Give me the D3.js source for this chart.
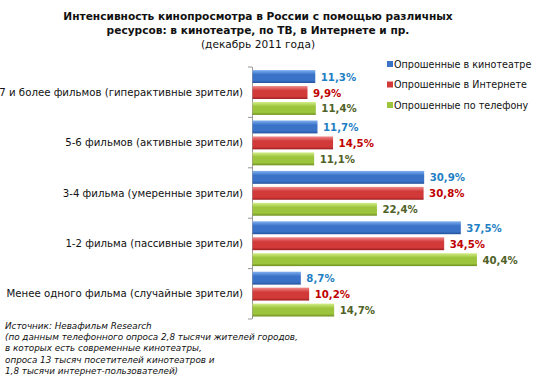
<!DOCTYPE html>
<html><head><meta charset="utf-8">
<script src="https://cdn.jsdelivr.net/npm/d3@7"></script>
<style>body{margin:0;background:#fff}svg{display:block}</style>
</head><body>
<script>
const categories = [
  "7 и более фильмов (гиперактивные зрители)",
  "5-6 фильмов (активные зрители)",
  "3-4 фильма (умеренные зрители)",
  "1-2 фильма (пассивные зрители)",
  "Менее одного фильма (случайные зрители)"
];
const seriesNames = ["Опрошенные в кинотеатре", "Опрошенные в Интернете", "Опрошенные по телефону"];
const cinema   = [11.3, 11.7, 30.9, 37.5, 8.7];
const internet = [9.9, 14.5, 30.8, 34.5, 10.2];
const phone    = [11.4, 11.1, 22.4, 40.4, 14.7];
const seriesValues = [cinema, internet, phone];
const titleLines = ["Интенсивность кинопросмотра в России с помощью различных", "ресурсов: в кинотеатре, по ТВ, в Интернете и пр."];
const subtitle = "(декабрь 2011 года)";
const sourceLines = [
  "Источник: Невафильм Research",
  "(по данным телефонного опроса 2,8 тысячи жителей городов,",
  "в которых есть современные кинотеатры,",
  "опроса 13 тысяч посетителей кинотеатров и",
  "1,8 тысячи интернет-пользователей)"
];

const W = 552, H = 381;
const barColors = [["#7fb0ef","#3a72c8","#24529a"],["#f08a8a","#d23a3a","#9e1c1c"],["#d4ee8a","#9cc43c","#6e8f1e"]];
const labelColors = ["#1f7fc4", "#c00000", "#4f6228"];
const legendColors = ["#3a72c8", "#d23a3a", "#9cc43c"];

const svg = d3.select("body").append("svg").attr("width", W).attr("height", H);
const defs = svg.append("defs");
barColors.forEach((c, i) => {
  const g = defs.append("linearGradient").attr("id", "g" + i).attr("x1", 0).attr("y1", 0).attr("x2", 0).attr("y2", 1);
  g.append("stop").attr("offset", "0%").attr("stop-color", c[0]);
  g.append("stop").attr("offset", "35%").attr("stop-color", c[1]);
  g.append("stop").attr("offset", "80%").attr("stop-color", c[1]);
  g.append("stop").attr("offset", "100%").attr("stop-color", c[2]);
});

// Title
const tt = svg.append("text").attr("text-anchor", "middle").attr("font-family", "DejaVu Sans")
  .attr("font-weight", "bold").attr("font-size", 10.6).attr("fill", "#111");
titleLines.forEach((t, i) => tt.append("tspan").attr("x", 258).attr("y", 20 + i * 13.5).text(t));
svg.append("text").attr("x", 258).attr("y", 48).attr("text-anchor", "middle")
  .attr("font-family", "DejaVu Sans").attr("font-size", 10.6).attr("fill", "#111").text(subtitle);

const x = d3.scaleLinear().domain([0, 45]).range([252, 502]);
const y = d3.scaleBand().domain(categories).range([67, 319]);
const yi = d3.scaleBand().domain(d3.range(3)).range([1.5, 49.5]).paddingInner(0.19).paddingOuter(0.1);

// Axis
const axis = d3.axisLeft(y).tickSize(4).tickFormat("");
const ag = svg.append("g").attr("transform", "translate(252,0)").call(axis);
ag.select(".domain").remove();
ag.selectAll(".tick").remove();
const tickPos = categories.map(c => y(c)).concat([y.range()[1]]);
svg.append("g").selectAll("line").data(tickPos).join("line")
  .attr("x1", 248).attr("x2", 252).attr("y1", d => d).attr("y2", d => d).attr("stroke", "#999");
svg.append("line").attr("x1", 252.5).attr("x2", 252.5).attr("y1", 67).attr("y2", 319).attr("stroke", "#999");

// Category labels
svg.append("g").selectAll("text").data(categories).join("text")
  .attr("x", 243).attr("y", d => y(d) + y.bandwidth() / 2 + 3.5)
  .attr("text-anchor", "end").attr("font-family", "DejaVu Sans").attr("font-size", 10.2).attr("fill", "#111")
  .text(d => d);

// Bars
seriesValues.forEach((vals, s) => {
  const g = svg.append("g");
  g.selectAll("rect").data(vals).join("rect")
    .attr("x", x(0) + 0.5).attr("y", (d, i) => y(categories[i]) + yi(s))
    .attr("width", d => x(d) - x(0)).attr("height", yi.bandwidth())
    .attr("fill", "url(#g" + s + ")");
  g.selectAll("text").data(vals).join("text")
    .attr("x", d => x(d) + 6).attr("y", (d, i) => y(categories[i]) + yi(s) + yi.bandwidth() / 2 + 4)
    .attr("font-family", "DejaVu Sans").attr("font-weight", "bold").attr("font-size", 10.2)
    .attr("fill", labelColors[s])
    .text(d => d3.format(".1f")(d).replace(".", ",") + "%");
});

// Legend
const lg = svg.append("g");
seriesNames.forEach((n, i) => {
  const ly = 64 + i * 20.5;
  lg.append("rect").attr("x", 387).attr("y", ly - 3).attr("width", 6).attr("height", 6).attr("fill", legendColors[i]);
  lg.append("text").attr("x", 394).attr("y", ly + 3.5).attr("font-family", "DejaVu Sans").attr("font-size", 9.6)
    .attr("fill", "#111").text(n);
});

// Source
const st = svg.append("text").attr("font-family", "DejaVu Sans").attr("font-style", "italic")
  .attr("font-size", 8.8).attr("fill", "#111");
sourceLines.forEach((t, i) => st.append("tspan").attr("x", 5).attr("y", 329 + i * 11.2).text(t));
</script>
</body></html>
